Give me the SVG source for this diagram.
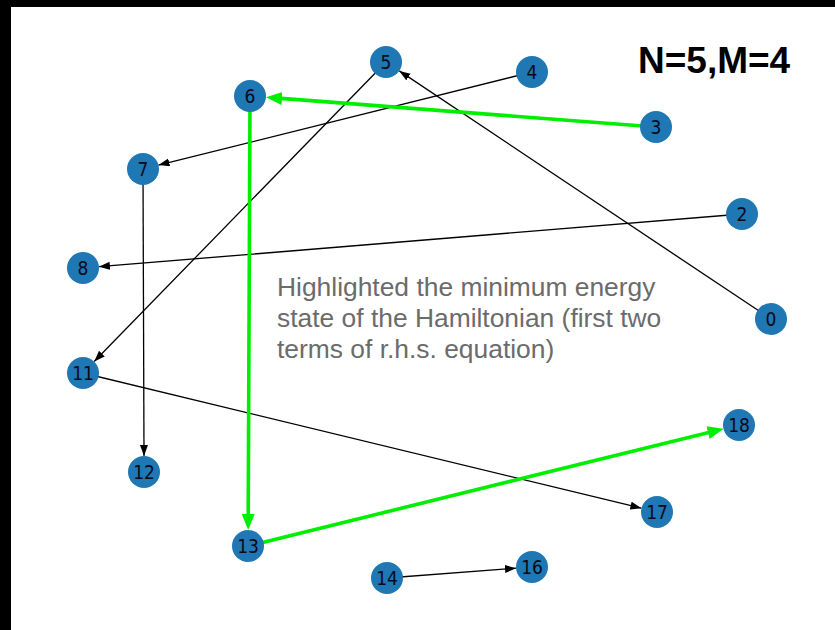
<svg xmlns="http://www.w3.org/2000/svg" width="835" height="630" viewBox="0 0 835 630">
<defs>
<style>
.node circle{fill:#1f77b4;}
.node text{font-family:"DejaVu Sans Condensed","DejaVu Sans",sans-serif;font-stretch:condensed;font-size:19px;fill:#0a0a1a;text-anchor:middle;}
.edge{stroke:#000;stroke-width:1.3;fill:none;}
.hl{stroke:#00ee00;stroke-width:3.6;fill:none;}
.note{font-family:"Liberation Sans",Arial,sans-serif;font-size:26.4px;fill:#6b6b6b;}
.title{font-family:"Liberation Sans",Arial,sans-serif;font-size:37px;font-weight:bold;fill:#000;}
</style>
<marker id="ab" markerUnits="userSpaceOnUse" markerWidth="12" markerHeight="9" refX="11" refY="4" orient="auto"><path d="M0,0 L11,4 L0,8 z" fill="#000"/></marker>
<marker id="ag" markerUnits="userSpaceOnUse" markerWidth="17" markerHeight="14" refX="4" refY="6.5" orient="auto"><path d="M0,0 L16,6.5 L0,13 z" fill="#00ee00"/></marker>
</defs>
<rect x="0" y="0" width="835" height="630" fill="#fff"/>
<rect x="0" y="0" width="835" height="7" fill="#000"/>
<rect x="0" y="0" width="11" height="630" fill="#000"/>
<g id="connectors">
<line class="edge" x1="771" y1="319" x2="399.3" y2="70.9" marker-end="url(#ab)"/>
<line class="edge" x1="532" y1="72" x2="158.5" y2="165.1" marker-end="url(#ab)"/>
<line class="edge" x1="386" y1="62" x2="94.2" y2="361.5" marker-end="url(#ab)"/>
<line class="edge" x1="742" y1="214" x2="98.9" y2="266.7" marker-end="url(#ab)"/>
<line class="edge" x1="143" y1="169" x2="144" y2="456" marker-end="url(#ab)"/>
<line class="edge" x1="83" y1="373" x2="641.4" y2="508.2" marker-end="url(#ab)"/>
<line class="edge" x1="387" y1="578" x2="516" y2="568.2" marker-end="url(#ab)"/>
<line class="hl" x1="656" y1="127" x2="278" y2="98.1" marker-end="url(#ag)"/>
<line class="hl" x1="250" y1="96" x2="248.2" y2="518" marker-end="url(#ag)"/>
<line class="hl" x1="248" y1="546" x2="711.9" y2="431.7" marker-end="url(#ag)"/>
</g>
<g id="n0" class="node"><circle cx="771" cy="319" r="16"/><text x="771" y="326">0</text></g>
<g id="n2" class="node"><circle cx="742" cy="214" r="16"/><text x="742" y="221">2</text></g>
<g id="n3" class="node"><circle cx="656" cy="127" r="16"/><text x="656" y="134">3</text></g>
<g id="n4" class="node"><circle cx="532" cy="72" r="16"/><text x="532" y="79">4</text></g>
<g id="n5" class="node"><circle cx="386" cy="62" r="16"/><text x="386" y="69">5</text></g>
<g id="n6" class="node"><circle cx="250" cy="96" r="16"/><text x="250" y="103">6</text></g>
<g id="n7" class="node"><circle cx="143" cy="169" r="16"/><text x="143" y="176">7</text></g>
<g id="n8" class="node"><circle cx="83" cy="268" r="16"/><text x="83" y="275">8</text></g>
<g id="n11" class="node"><circle cx="83" cy="373" r="16"/><text x="83" y="380">11</text></g>
<g id="n12" class="node"><circle cx="144" cy="472" r="16"/><text x="144" y="479">12</text></g>
<g id="n13" class="node"><circle cx="248" cy="546" r="16"/><text x="248" y="553">13</text></g>
<g id="n14" class="node"><circle cx="387" cy="578" r="16"/><text x="387" y="585">14</text></g>
<g id="n16" class="node"><circle cx="532" cy="567" r="16"/><text x="532" y="574">16</text></g>
<g id="n17" class="node"><circle cx="657" cy="512" r="16"/><text x="657" y="519">17</text></g>
<g id="n18" class="node"><circle cx="739" cy="425" r="16"/><text x="739" y="432">18</text></g>
<text class="title" x="638" y="73">N=5,M=4</text>
<g id="note">
<text class="note" x="277" y="296">Highlighted the minimum energy</text>
<text class="note" x="277" y="327">state of the Hamiltonian (first two</text>
<text class="note" x="277" y="358">terms of r.h.s. equation)</text>
</g>
</svg>
